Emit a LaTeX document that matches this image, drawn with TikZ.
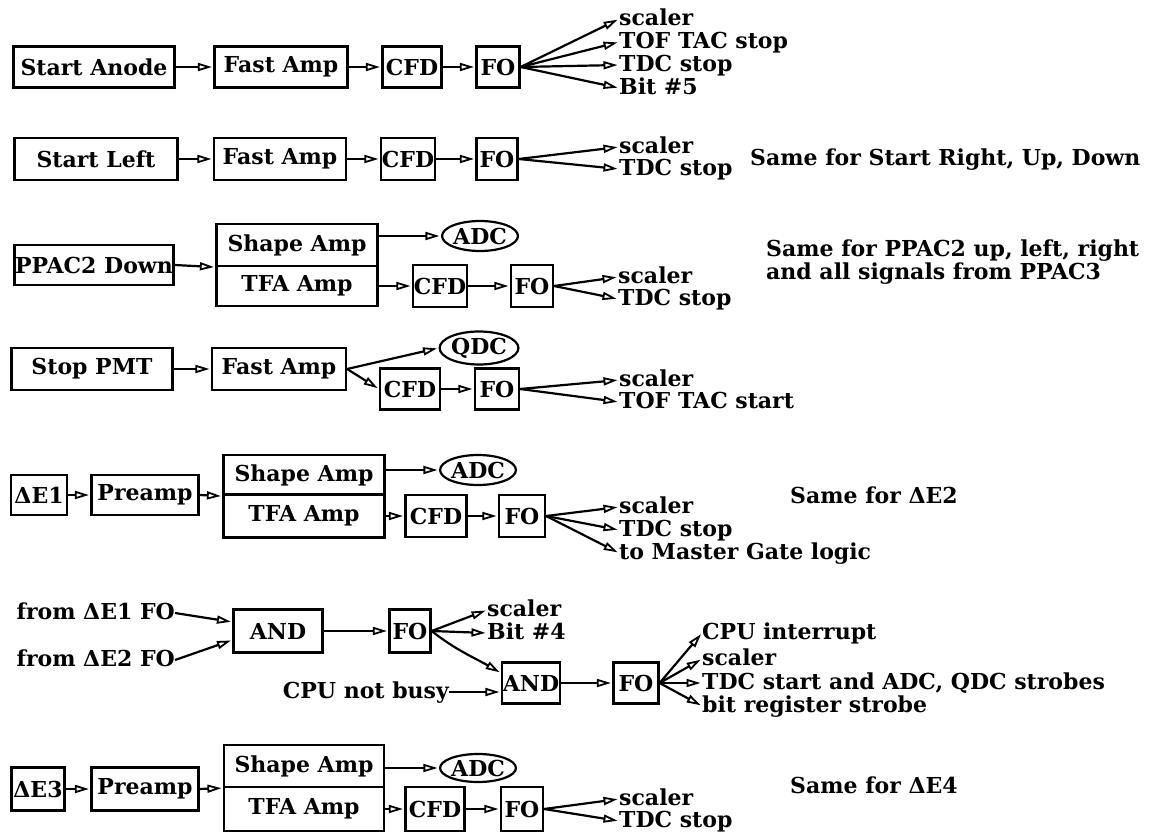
\documentclass[tikz,border=0pt]{standalone}
\usepackage{fontspec}
\setmainfont{DejaVu Serif}
\usetikzlibrary{arrows.meta,shapes.geometric}
\newcommand\lbl{\fontsize{22}{21.5}\selectfont\bfseries}
\tikzset{
 box/.style={draw, line width=2.2pt, inner sep=0pt, font=\lbl},
 ell/.style={draw, ellipse, line width=2.2pt, inner sep=0pt, minimum width=69pt, minimum height=30pt, font=\lbl},
 lbl/.style={inner sep=0pt, font=\lbl, text height=16.5pt, text depth=4pt},
 note/.style={inner sep=0pt, font=\lbl},
 arr/.style={line width=2.2pt, shorten >=1.5pt, -{Triangle[open,length=14pt,width=8pt,line width=1.8pt]}},
}
\begin{document}
\begin{tikzpicture}[x=1pt,y=-1pt]
\fill[white] (0,0) rectangle (1155,837);
\useasboundingbox (0,0) rectangle (1155,837);

% ---------- Row 1: Start Anode
\node[box, minimum width=161pt, minimum height=41pt] (sa) at (94,67) {Start Anode};
\node[box, minimum width=133pt, minimum height=41pt] (fa1) at (281,67) {Fast Amp};
\node[box, minimum width=59pt, minimum height=41pt] (cfd1) at (412,67) {CFD};
\node[box, minimum width=43pt, minimum height=41pt] (fo1) at (498,67) {FO};
\draw[arr] (sa) -- (fa1);
\draw[arr] (fa1) -- (cfd1);
\draw[arr] (cfd1) -- (fo1);
\node[lbl, anchor=west] (o11) at (619,19) {scaler};
\node[lbl, anchor=west] (o12) at (619,42) {TOF TAC stop};
\node[lbl, anchor=west] (o13) at (619,65) {TDC stop};
\node[lbl, anchor=west] (o14) at (619,88) {Bit \#5};
\foreach \o in {o11,o12,o13,o14} \draw[arr] (fo1.east) -- (\o.west);

% ---------- Row 2: Start Left
\node[box, minimum width=163pt, minimum height=42pt] (sl) at (96,159) {Start Left};
\node[box, minimum width=132pt, minimum height=42pt] (fa2) at (280,159) {Fast Amp};
\node[box, minimum width=54pt, minimum height=42pt] (cfd2) at (408,159) {CFD};
\node[box, minimum width=41pt, minimum height=42pt] (fo2) at (497,159) {FO};
\draw[arr] (sl) -- (fa2);
\draw[arr] (fa2) -- (cfd2);
\draw[arr] (cfd2) -- (fo2);
\node[lbl, anchor=west] (o21) at (619,147) {scaler};
\node[lbl, anchor=west] (o22) at (619,169) {TDC stop};
\foreach \o in {o21,o22} \draw[arr] (fo2.east) -- (\o.west);
\node[note, anchor=west] (n2) at (750,160) {Same for Start Right, Up, Down};

% ---------- Row 3: PPAC2 Down
\node[box, minimum width=159pt, minimum height=40pt] (pd) at (94,265) {PPAC2 Down};
\node[box, minimum width=161pt, minimum height=42pt] (sh3) at (297,245) {Shape Amp};
\node[box, minimum width=161pt, minimum height=40pt] (tfa3) at (297,286) {TFA Amp};
\node[ell] (adc3) at (480,236) {ADC};
\node[box, minimum width=54pt, minimum height=42pt] (cfd3) at (440,286) {CFD};
\node[box, minimum width=42pt, minimum height=42pt] (fo3) at (532,286) {FO};
\draw[arr] (pd.east) -- (sh3.south west);
\draw[arr] (sh3.east |- adc3.west) -- (adc3.west);
\draw[arr] (tfa3.east) -- (cfd3.west);
\draw[arr] (cfd3) -- (fo3);
\node[lbl, anchor=west] (o31) at (618,277) {scaler};
\node[lbl, anchor=west] (o32) at (618,299) {TDC stop};
\foreach \o in {o31,o32} \draw[arr] (fo3.east) -- (\o.west);
\node[note, anchor=west, align=left] (n3) at (766,262) {Same for PPAC2 up, left, right\\and all signals from PPAC3};

% ---------- Row 4: Stop PMT
\node[box, minimum width=161pt, minimum height=42pt] (sp) at (92,369) {Stop PMT};
\node[box, minimum width=134pt, minimum height=42pt] (fa4) at (279,369) {Fast Amp};
\node[ell, minimum width=71pt, minimum height=33pt] (qdc) at (479,348) {QDC};
\node[box, minimum width=60pt, minimum height=41pt] (cfd4) at (410,389) {CFD};
\node[box, minimum width=44pt, minimum height=41pt] (fo4) at (497,389) {FO};
\draw[arr] (sp) -- (fa4);
\draw[arr] (fa4.east) -- (qdc.west);
\draw[arr] (fa4.east) -- (cfd4.west);
\draw[arr] (cfd4) -- (fo4);
\node[lbl, anchor=west] (o41) at (619,380) {scaler};
\node[lbl, anchor=west] (o42) at (619,402) {TOF TAC start};
\foreach \o in {o41,o42} \draw[arr] (fo4.east) -- (\o.west);

% ---------- Row 5: Delta E1
\node[box, minimum width=56pt, minimum height=40pt] (de1) at (39,495) {ΔE1};
\node[box, minimum width=107pt, minimum height=40pt] (pre1) at (145,495) {Preamp};
\node[box, minimum width=161pt, minimum height=40pt] (sh5) at (304,475) {Shape Amp};
\node[box, minimum width=161pt, minimum height=43pt] (tfa5) at (304,516) {TFA Amp};
\node[ell] (adc5) at (478,470) {ADC};
\node[box, minimum width=61pt, minimum height=42pt] (cfd5) at (436,516) {CFD};
\node[box, minimum width=46pt, minimum height=42pt] (fo5) at (522,516) {FO};
\draw[arr] (de1) -- (pre1);
\draw[arr] (pre1.east) -- (sh5.south west);
\draw[arr] (sh5.east |- adc5.west) -- (adc5.west);
\draw[arr] (tfa5.east) -- (cfd5.west);
\draw[arr] (cfd5) -- (fo5);
\node[lbl, anchor=west] (o51) at (619,507) {scaler};
\node[lbl, anchor=west] (o52) at (619,530) {TDC stop};
\node[lbl, anchor=west] (o53) at (619,553) {to Master Gate logic};
\foreach \o in {o51,o52,o53} \draw[arr] (fo5.east) -- (\o.west);
\node[note, anchor=west] (n5) at (790,495) {Same for ΔE2};

% ---------- Row 6: Master gate logic
\node[lbl, anchor=east] (f1) at (175,613) {from ΔE1 FO};
\node[lbl, anchor=east] (f2) at (175,660) {from ΔE2 FO};
\node[box, minimum width=89pt, minimum height=43pt] (and1) at (278,631) {AND};
\node[box, minimum width=41pt, minimum height=43pt] (fo6) at (410,631) {FO};
\draw[arr] (f1.east) -- ([yshift=9pt]and1.west);
\draw[arr] (f2.east) -- ([yshift=-9pt]and1.west);
\draw[arr] (and1) -- (fo6);
\node[lbl, anchor=west] (o61) at (487,610) {scaler};
\node[lbl, anchor=west] (o62) at (487,633) {Bit \#4};
\foreach \o in {o61,o62} \draw[arr] (fo6.east) -- (\o.west);
\node[box, minimum width=58pt, minimum height=41pt] (and2) at (531,683) {AND};
\node[lbl, anchor=east] (cpu) at (449,692) {CPU not busy};
\draw[arr] (fo6.east) to[out=-38,in=150] ([yshift=10pt]and2.west);
\draw[arr] (cpu.east) -- ([yshift=-9pt]and2.west);
\node[box, minimum width=45pt, minimum height=41pt] (fo7) at (636,683) {FO};
\draw[arr] (and2) -- (fo7);
\node[lbl, anchor=west] (o71) at (702,633) {CPU interrupt};
\node[lbl, anchor=west] (o72) at (702,659) {scaler};
\node[lbl, anchor=west] (o73) at (702,683) {TDC start and ADC, QDC strobes};
\node[lbl, anchor=west] (o74) at (702,706) {bit register strobe};
\foreach \o in {o71,o72,o73,o74} \draw[arr] (fo7.east) -- (\o.west);

% ---------- Row 7: Delta E3
\node[box, minimum width=53pt, minimum height=43pt] (de3) at (38,789) {ΔE3};
\node[box, minimum width=107pt, minimum height=43pt] (pre3) at (145,789) {Preamp};
\node[box, minimum width=160pt, minimum height=42pt] (sh7) at (304,766) {Shape Amp};
\node[box, minimum width=160pt, minimum height=44pt] (tfa7) at (304,809) {TFA Amp};
\node[ell, minimum height=28pt] (adc7) at (478,768) {ADC};
\node[box, minimum width=59pt, minimum height=44pt] (cfd7) at (435,809) {CFD};
\node[box, minimum width=42pt, minimum height=44pt] (fo8) at (522,809) {FO};
\draw[arr] (de3) -- (pre3);
\draw[arr] (pre3.east) -- (sh7.south west);
\draw[arr] (sh7.east |- adc7.west) -- (adc7.west);
\draw[arr] (tfa7.east) -- (cfd7.west);
\draw[arr] (cfd7) -- (fo8);
\node[lbl, anchor=west] (o81) at (619,799) {scaler};
\node[lbl, anchor=west] (o82) at (619,821) {TDC stop};
\foreach \o in {o81,o82} \draw[arr] (fo8.east) -- (\o.west);
\node[note, anchor=west] (n7) at (790,785) {Same for ΔE4};
\end{tikzpicture}
\end{document}
